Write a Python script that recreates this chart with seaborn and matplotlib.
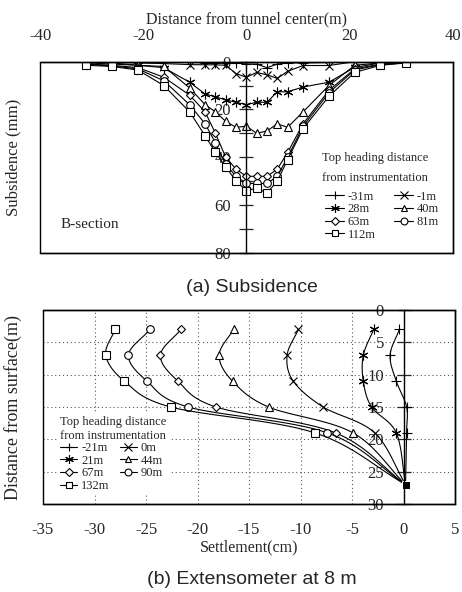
import numpy as np
import pandas as pd
import matplotlib
matplotlib.use('Agg')
import matplotlib.pyplot as plt
import matplotlib.lines as mlines
from matplotlib.patches import Rectangle
import seaborn as sns

# ---- (a) surface subsidence, B-section (mm, positive = down)
x_pos = [-31, -26, -21, -16, -11, -8, -6, -4, -2, 0, 2, 4, 6, 8, 11, 16, 21, 26, 31]
sub_m31 = [0, 0, 0.3, 0.3, 0.3, 0.5, 0.5, 0.5, 0.5, 1, 1, 2.5, 1, 0.5, 0.5, 0.3, 0, 0, 0]
sub_m1 = [0, 0.3, 0.5, 0.8, 1.2, 1.3, 1.3, 1.5, 5, 6.5, 4.5, 5.5, 7, 4, 1.6, 1.6, 0, 0, 0]
sub_28 = [0, 0.5, 1.5, 2.5, 8.6, 13.5, 14.7, 16, 17, 18, 17, 17, 12.6, 12.6, 10.6, 8.6, 2.4, 0.5, 0]
sub_40 = [0.5, 1, 1.5, 2, 11, 18, 21, 25, 27.5, 27, 30, 29, 26, 27.5, 21, 10, 1.5, 0.5, 0]
sub_63 = [1, 1.5, 2.5, 6.5, 14, 21, 30, 40, 45, 48, 48, 48, 45, 38, 26, 12, 3, 1, 0.5]
sub_81 = [1, 1.8, 3, 8, 18, 26, 34, 43, 48, 51, 51, 51, 48, 40, 27, 13, 3.5, 1.2, 0.5]
sub_112 = [1.5, 2, 3.5, 10, 21, 31, 38, 44, 50, 54, 53, 55, 50, 41, 28, 14.5, 4.5, 1.5, 0.5]
sub_labels = ['-31m', '-1m', '28m', '40m', '63m', '81m', '112m']

# ---- (b) extensometer at 8 m (settlement in cm vs depth in m)
depth = [3, 7, 11, 15, 19]
ext_m21 = [-0.4, -1.3, -0.7, 0.3, 0.3]
ext_0 = [-10.2, -11.3, -10.7, -7.8, -2.8]
ext_21 = [-2.9, -3.9, -3.9, -3.1, -0.7]
ext_44 = [-16.5, -17.9, -16.6, -13.1, -4.9]
ext_67 = [-21.6, -23.6, -21.9, -18.2, -6.6]
ext_90 = [-24.6, -26.7, -24.9, -20.9, -7.4]
ext_132 = [-28.0, -28.9, -27.1, -22.6, -8.6]
anchor_x = [0.2]
anchor_depth = [27]
ext_labels = ['-21m', '0m', '21m', '44m', '67m', '90m', '132m']

markers = ['+', 'x', (6, 2, 0), '^', 'D', 'o', 's']
msizes = [7, 6, 7, 5.5, 4.5, 5.5, 5.5]

sns.set_theme(style='white')
plt.rcParams['font.family'] = ['Liberation Serif', 'DejaVu Serif']
plt.rcParams['axes.unicode_minus'] = False
plt.rcParams['axes.edgecolor'] = 'black'
plt.rcParams['axes.linewidth'] = 1.0
cap_font = dict(family=['Liberation Sans', 'DejaVu Sans'], size=14)
LEG_TITLE = 'Top heading distance\nfrom instrumentation'


def smooth(px, py, n=16):
    # catmull-rom curve through the measured points (display only)
    P = np.column_stack([px, py]).astype(float)
    P = np.vstack([2 * P[0] - P[1], P, 2 * P[-1] - P[-2]])
    t = np.linspace(0, 1, n, endpoint=False)[:, None]
    out = []
    for i in range(1, len(P) - 2):
        p0, p1, p2, p3 = P[i - 1], P[i], P[i + 1], P[i + 2]
        out.append(0.5 * (2 * p1 + (-p0 + p2) * t + (2 * p0 - 5 * p1 + 4 * p2 - p3) * t ** 2
                          + (-p0 + 3 * p1 - 3 * p2 + p3) * t ** 3))
    out.append(P[-2][None, :])
    out = np.vstack(out)
    return out[:, 0], out[:, 1]


def handles(labels):
    hs = [mlines.Line2D([], [], color='black', lw=0.8, marker=m, ms=ms * 0.9,
                        mfc='white', mec='black', mew=0.8, label=l)
          for m, ms, l in zip(markers, msizes, labels)]
    order = [0, 2, 4, 6, 1, 3, 5]   # column-first fill -> row-wise reading
    return [hs[i] for i in order]


fig = plt.figure(figsize=(4.62, 5.92), dpi=100)

# ================= (a) Subsidence =================
ax1 = fig.add_axes([40 / 462, 1 - 252.7 / 592, 412.7 / 462, 191 / 592])
sub_series = [sub_m31, sub_m1, sub_28, sub_40, sub_63, sub_81, sub_112]
for vals, m, ms in zip(sub_series, markers, msizes):
    sns.lineplot(x=x_pos, y=vals, ax=ax1, color='black', lw=0.8, marker=m, ms=ms,
                 mfc='white', mec='black', mew=0.8, estimator=None, sort=False)
ax1.set_xlim(-40, 40)
ax1.set_ylim(78.6, 0)
ax1.spines['left'].set_position(('data', 0))
ax1.add_patch(Rectangle((0, 0), 1, 1, transform=ax1.transAxes, fill=False,
                        lw=1.0, ec='black', clip_on=False, zorder=5))
ax1.xaxis.tick_top()
ax1.xaxis.set_label_position('top')
ax1.set_xticks([-40, -20, 0, 20, 40])
ax1.set_yticks([0, 20, 40, 60, 80])
ax1.set_yticks([10, 30, 50, 70], minor=True)
ax1.tick_params(axis='x', length=0, pad=13, labelsize=12)
ax1.tick_params(axis='y', which='both', direction='inout', length=10, width=0.9,
                pad=6, labelsize=12, left=True)
ax1.set_xlabel('Distance from tunnel center(m)', fontsize=11.5, labelpad=3)
ax1.set_ylabel('Subsidence (mm)', fontsize=12)
ax1.yaxis.set_label_coords(-0.045, 0.5)
ax1.text(-36, 68, 'B-section', fontsize=11, va='center')
ax1.text(0.683, 0.525, LEG_TITLE, transform=ax1.transAxes, fontsize=9,
         va='top', ha='left', linespacing=1.8)
ax1.legend(handles=handles(sub_labels), ncol=2, loc='upper left',
           bbox_to_anchor=(0.67, 0.37), frameon=False, fontsize=9,
           handlelength=1.5, handletextpad=0.3, columnspacing=1.5,
           labelspacing=0.05, borderpad=0.2)

# ================= (b) Extensometer =================
ax2 = fig.add_axes([43 / 462, 88 / 592, 412 / 462, 194 / 592])
ext_series = [ext_m21, ext_0, ext_21, ext_44, ext_67, ext_90, ext_132]
for vals, m, ms in zip(ext_series, markers, msizes):
    cx, cy = smooth(vals + anchor_x, depth + anchor_depth)
    sns.lineplot(x=cx, y=cy, ax=ax2, color='black', lw=0.8, estimator=None, sort=False)
    sns.lineplot(x=vals, y=depth, ax=ax2, color='black', ls='none', marker=m, ms=ms,
                 mfc='white', mec='black', mew=0.8, estimator=None, sort=False)
sns.lineplot(x=anchor_x, y=anchor_depth, ax=ax2, color='black', ls='none', marker='s',
             ms=6, estimator=None, sort=False)
ax2.set_xlim(-35, 5)
ax2.set_ylim(30, 0)
ax2.set_xticks(np.arange(-35, 6, 5))
ax2.set_yticks(np.arange(0, 31, 5))
ax2.grid(True, ls=(0, (1, 2.5)), color='0.35', lw=0.8)
ax2.spines['left'].set_position(('data', 0))
ax2.add_patch(Rectangle((0, 0), 1, 1, transform=ax2.transAxes, fill=False,
                        lw=1.0, ec='black', clip_on=False, zorder=5))
ax2.tick_params(axis='x', length=0, pad=13, labelsize=12)
ax2.tick_params(axis='y', direction='inout', length=10, width=0.9, pad=9,
                labelsize=12, left=True)
ax2.set_xlabel('Settlement(cm)', fontsize=11.5, labelpad=1)
ax2.set_ylabel('Distance from surface(m)', fontsize=13)
ax2.yaxis.set_label_coords(-0.05, 0.5)
ax2.legend(handles=handles(ext_labels), ncol=2, loc='upper left',
           bbox_to_anchor=(0.02, 0.5), frameon=True, fontsize=9,
           title=LEG_TITLE, title_fontsize=9, alignment='left',
           handlelength=1.4, handletextpad=0.3, columnspacing=0.8,
           labelspacing=0.05, borderpad=0.2, framealpha=1,
           edgecolor='none', facecolor='white')

fig.text(0.545, 1 - 287 / 592, '(a) Subsidence', ha='center', va='center', fontdict=cap_font)
fig.text(0.545, 1 - 579 / 592, '(b) Extensometer at 8 m', ha='center', va='center',
         fontdict=cap_font)

fig.savefig('out.png', dpi=100)
